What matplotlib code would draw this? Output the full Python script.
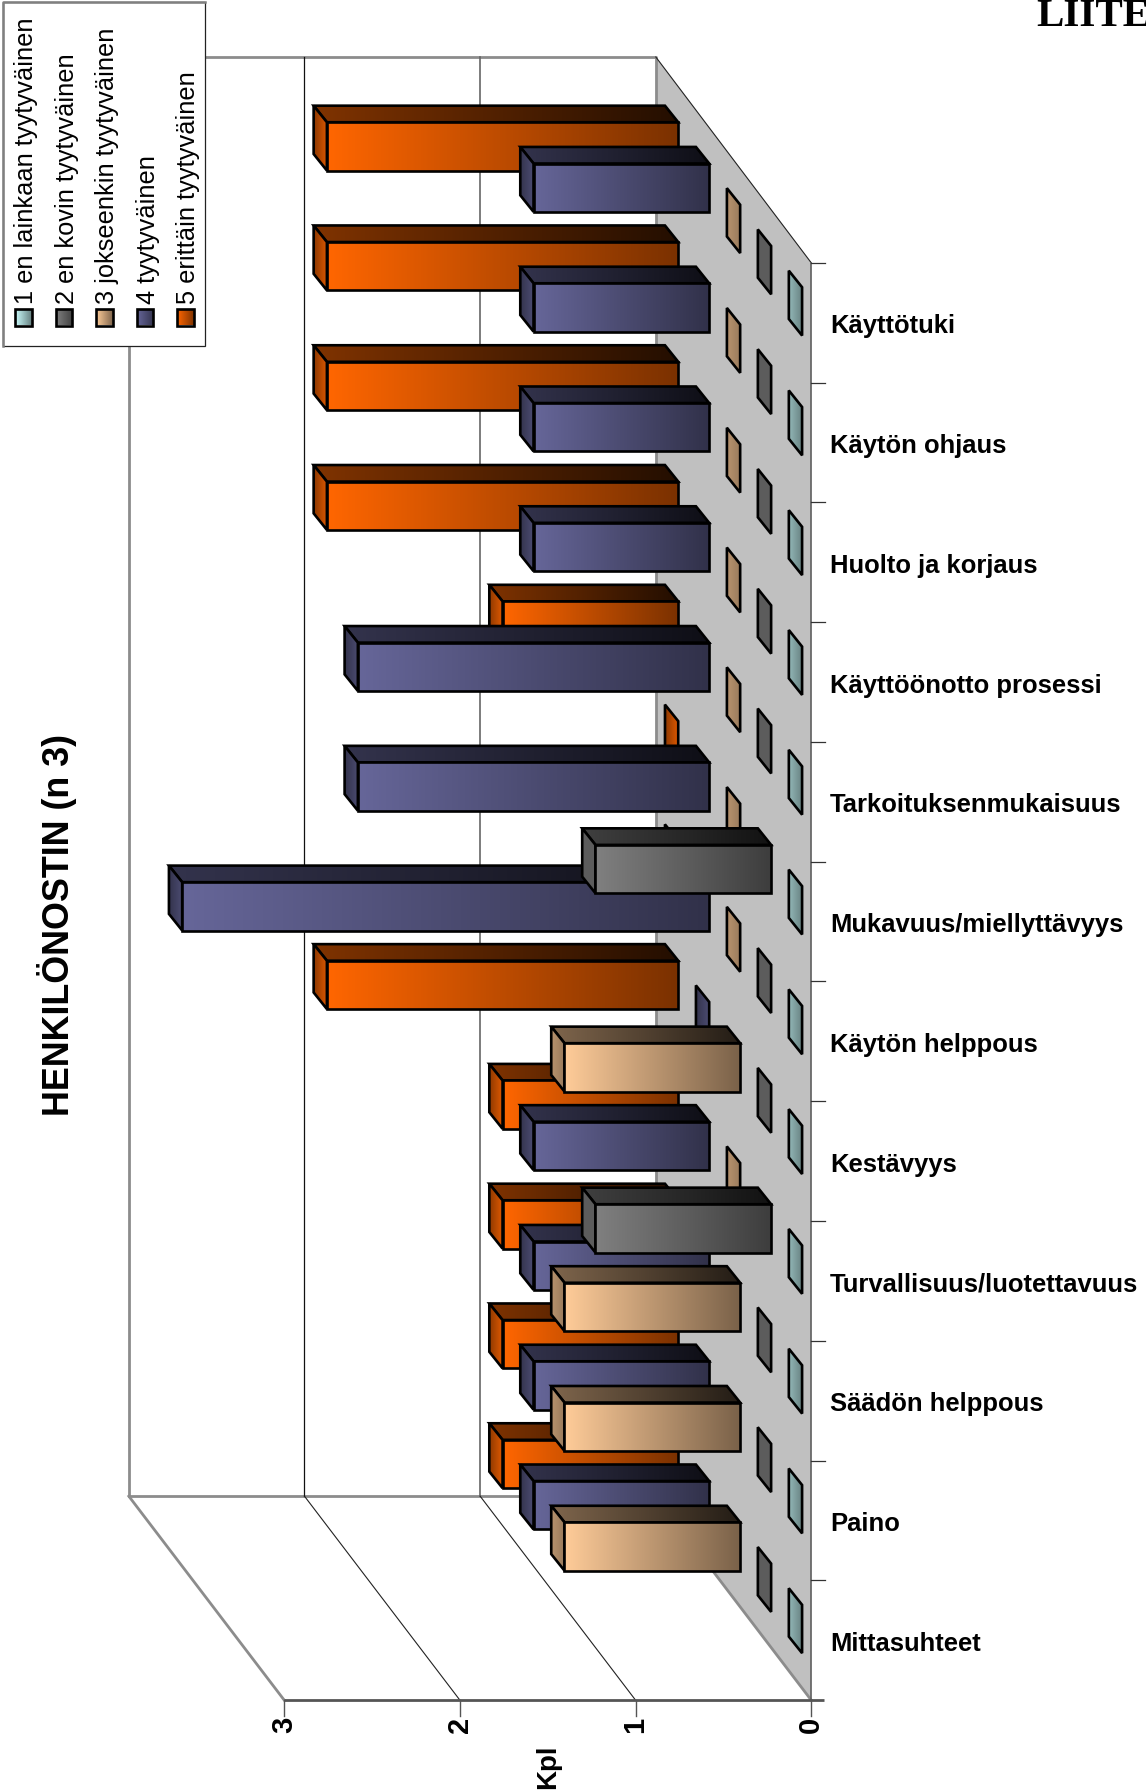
import numpy as np
import matplotlib
matplotlib.use("Agg")
import matplotlib.pyplot as plt
from matplotlib.patches import Polygon, Rectangle
from matplotlib.colors import to_rgb

categories = ["Käyttötuki", "Käytön ohjaus", "Huolto ja korjaus", "Käyttöönotto prosessi",
              "Tarkoituksenmukaisuus", "Mukavuus/miellyttävyys", "Käytön helppous", "Kestävyys",
              "Turvallisuus/luotettavuus", "Säädön helppous", "Paino", "Mittasuhteet"]
series_names = ["1 en lainkaan tyytyväinen", "2 en kovin tyytyväinen", "3 jokseenkin tyytyväinen",
                "4 tyytyväinen", "5 erittäin tyytyväinen"]
s1 = [0, 0, 0, 0, 0, 0, 0, 0, 0, 0, 0, 0]
s2 = [0, 0, 0, 0, 0, 1, 0, 0, 1, 0, 0, 0]
s3 = [0, 0, 0, 0, 0, 0, 0, 1, 0, 1, 1, 1]
s4 = [1, 1, 1, 1, 2, 2, 3, 0, 1, 1, 1, 1]
s5 = [2, 2, 2, 2, 1, 0, 0, 2, 1, 1, 1, 1]
value_ticks = [0, 1, 2, 3]
series_values = [s1, s2, s3, s4, s5]
face_left = ["#CCFFFF", "#808080", "#FFCC99", "#666699", "#FF6600"]
end_shade = [(0.72, 0.5), (0.72, 0.72), (0.72, 0.6), (0.5, 0.75), (0.55, 0.88)]

plt.rcParams["font.family"] = ["Liberation Sans", "DejaVu Sans"]
W, H = 1146, 1791
fig = plt.figure(figsize=(W / 100, H / 100), dpi=100)
ax = fig.add_axes([0, 0, 1, 1])
ax.set_xlim(0, W)
ax.set_ylim(H, 0)
ax.axis("off")

K = W / 1003.0
X0, Y_FRONT_TOP, Y_FRONT_BOT = 710 * K, 230 * K, 1488 * K
UNIT = 153.75 * K
CAT_H = (Y_FRONT_BOT - Y_FRONT_TOP) / len(categories)
DX, DY = 136 * K, 178.5 * K     # full floor depth
BAR_DX, BAR_DY = 11.6 * K, 14.5 * K  # depth of one bar
SLOT_DX, SLOT_DY = 27.1 * K, 36.1 * K
BAR_H = 42.3 * K
FIRST_X = 702 * K - X0
FIRST_Y = 21.4 * K
TOP_EXTRA = 1.6 * K


def P(v, c):
    """value, category position -> front plane pixel"""
    return X0 - v * UNIT, Y_FRONT_TOP + c * CAT_H


def back(x, y):
    return x - DX, y - DY


GRAY = "#808080"
WALL = "#8c8c8c"
# floor
x_f0, y_f0 = P(0, 0)
x_f1, y_f1 = P(0, 12)
xv3, _ = P(3, 0)
bx3, by_top = back(xv3, y_f0)
by_top -= TOP_EXTRA
bx0, by_bot = back(x_f0, y_f1)
ax.add_patch(Polygon([(bx0, by_top), (x_f0, y_f0), (x_f1, y_f1), (bx0, by_bot)],
                     closed=True, fc="#C0C0C0", ec="none", zorder=1))
# walls
lw_thick = 2.0
ax.plot([bx3, bx0, bx0], [by_top, by_top, by_bot], color=WALL, lw=lw_thick, zorder=2, solid_capstyle="butt")
ax.plot([bx3, bx3], [by_top, by_bot], color=WALL, lw=lw_thick, zorder=2)
ax.plot([bx3, bx0], [by_bot, by_bot], color=WALL, lw=lw_thick, zorder=2)
ax.plot([bx0, x_f0], [by_top, y_f0], color="#222222", lw=0.8, zorder=2)
ax.plot([bx0, x_f1], [by_bot, y_f1], color=WALL, lw=lw_thick, zorder=2)
ax.plot([x_f0, x_f1], [y_f0, y_f1], color="#606060", lw=1.2, zorder=2)
ax.plot([bx3, xv3], [by_bot, y_f1], color=WALL, lw=lw_thick, zorder=2)
grid_styles = {1: ("#666666", 1.2), 2: ("#111111", 0.9)}
for v in value_ticks[1:3]:
    xv, _ = P(v, 0)
    bx, _ = back(xv, 0)
    c_, w_ = grid_styles[v]
    ax.plot([bx, bx], [by_top, by_bot], color=c_, lw=w_, zorder=2)
    ax.plot([bx, xv], [by_bot, y_f1], color="#222222", lw=0.8, zorder=2)
# value axis
ax.plot([xv3, x_f0 + 11 * K], [y_f1, y_f1], color="#555555", lw=2.0, zorder=3, solid_capstyle="butt")
for v in value_ticks:
    xv, _ = P(v, 12)
    ax.plot([xv, xv], [y_f1, y_f1 + 14 * K], color="#555555", lw=1.0, zorder=3)
    ax.text(xv, y_f1 + 22 * K, str(v), rotation=90, ha="center", va="center",
            fontsize=21, fontweight="bold", color="black", zorder=6)
# category ticks and labels
for i in range(len(categories)):
    _, y = P(0, i)
    ax.plot([x_f0, x_f0 + 12 * K], [y, y], color="#333333", lw=0.9, zorder=3)
    _, yc = P(0, i + 0.53)
    ax.text(726.5 * K, yc, categories[i], ha="left", va="center", fontsize=18.45,
            fontweight="bold", color="black", zorder=6)


def gradient(poly, c0, c1, z, lw=1.9):
    poly = np.asarray(poly)
    xa, xb = poly[:, 0].min(), poly[:, 0].max()
    ya, yb = poly[:, 1].min(), poly[:, 1].max()
    t = np.linspace(0, 1, 128)[:, None]
    img = (np.array(to_rgb(c0)) * (1 - t) + np.array(to_rgb(c1)) * t)[None, :, :]
    clip = Polygon(poly, closed=True, transform=ax.transData, fc="none", ec="none")
    ax.add_patch(clip)
    ax.imshow(img, extent=(xa, max(xb, xa + 1), yb, ya), aspect="auto", interpolation="bilinear",
              clip_path=clip, zorder=z)
    ax.add_patch(Polygon(poly, closed=True, fc="none", ec="black", lw=lw, joinstyle="miter", zorder=z + 0.1))


def shade(c, f):
    return tuple(np.array(to_rgb(c)) * f)


def draw_bar(value, cat, s, z):
    col = face_left[s]
    xr = X0 + FIRST_X - s * SLOT_DX
    yt = Y_FRONT_TOP + cat * CAT_H + FIRST_Y - s * SLOT_DY
    xl = xr - value * UNIT
    yb = yt + BAR_H
    # upper side
    if value > 0:
        up = [(xl, yt), (xr, yt), (xr - BAR_DX, yt - BAR_DY), (xl - BAR_DX, yt - BAR_DY)]
        gradient(up, shade(col, 0.5), shade(col, 0.14), z)
    # value end
    end = [(xl, yt), (xl, yb), (xl - BAR_DX, yb - BAR_DY), (xl - BAR_DX, yt - BAR_DY)]
    gradient(end, shade(col, end_shade[s][0]), shade(col, end_shade[s][1]), z + 0.2)
    if value > 0:
        gradient([(xl, yt), (xr, yt), (xr, yb), (xl, yb)], shade(col, 1.0), shade(col, 0.48), z + 0.4)


for s in range(4, -1, -1):
    z = 10 + (4 - s)
    for c, v in enumerate(series_values[s]):
        draw_bar(v, c, s, z)

ax.set_xlim(0, W)
ax.set_ylim(H, 0)

# legend
ax.add_patch(Rectangle((3, 2), 202, 344, fc="white", ec="#222222", lw=0.9, zorder=30))
ax.plot([3, 3, 205], [346, 2, 2], color=GRAY, lw=1.8, zorder=31)
for i, name in enumerate(series_names):
    x0 = 15 + i * 40.6
    gradient([(x0, 309), (x0 + 16.5, 309), (x0 + 16.5, 325.5), (x0, 325.5)], face_left[i],
             shade(face_left[i], 0.5), 32)
    ax.text(x0 + 11, 304.5, name, rotation=90, ha="center", va="bottom", fontsize=18.25,
            color="black", zorder=33)
ax.set_xlim(0, W)
ax.set_ylim(H, 0)

ax.text(50 * K, 810 * K, "HENKILÖNOSTIN (n 3)", rotation=90, ha="center", va="center",
        fontsize=25.8, fontweight="bold", color="black", zorder=6)
ax.text(480 * K, 1546 * K, "Kpl", rotation=90, ha="center", va="center",
        fontsize=20, fontweight="bold", color="black", zorder=6)
ax.text(907 * K, 25.5, "LIITE", ha="left", va="baseline", family=["Liberation Serif"],
        fontsize=29.5, fontweight="bold", color="black", zorder=6)

fig.savefig("out.png", dpi=100, facecolor="white")
